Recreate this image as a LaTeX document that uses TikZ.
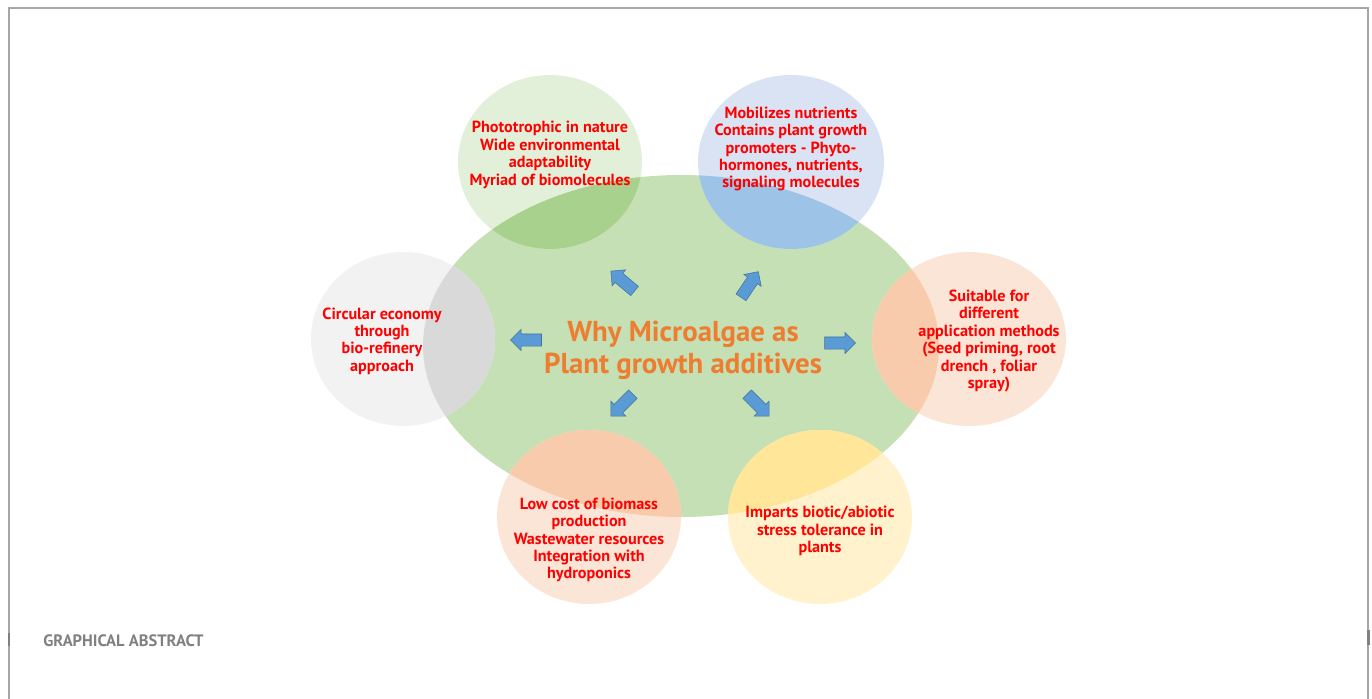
\documentclass[tikz,border=0pt]{standalone}
\usepackage{fontspec}
\setmainfont{PT Sans}
\usepackage{tikz}
\usetikzlibrary{arrows.meta}
\usetikzlibrary{positioning, shapes.arrows, shapes.geometric}
\definecolor{leafgreen}{HTML}{C5E0B4}
\definecolor{paleleaf}{HTML}{E2F0D9}
\definecolor{darkleaf}{HTML}{A9D18E}
\definecolor{paleblue}{HTML}{DAE3F3}
\definecolor{darkblue}{HTML}{9DC3E6}
\definecolor{palegrey}{HTML}{F2F2F2}
\definecolor{darkgrey}{HTML}{D9D9D9}
\definecolor{palepeach}{HTML}{FBE5D6}
\definecolor{darkpeach}{HTML}{F8CBAD}
\definecolor{palesun}{HTML}{FFF2CC}
\definecolor{darksun}{HTML}{FFE699}
\definecolor{titleorange}{HTML}{ED7D31}
\definecolor{arrowblue}{HTML}{5B9BD5}
\definecolor{arrowedge}{HTML}{41719C}
\definecolor{framegrey}{HTML}{A6A6A6}
\tikzset{
reason/.style = { align = center, text = red, font = \bfseries\fontsize{9.2}{9.92}\selectfont, inner sep = 0pt },
headline/.style = { align = center, text = titleorange, font = \bfseries\fontsize{16.4}{18}\selectfont, inner sep = 0pt },
blue arrow/.style = { single arrow, draw = arrowedge, line width = 0.3pt, fill = arrowblue, minimum height = 0.62cm, inner sep = 0.115cm, single arrow head extend = 0.09cm },
}

\begin{document}
\begin{tikzpicture}[x=0.02cm, y=-0.02cm]
      \useasboundingbox (0,0) rectangle (1372,699);
      \draw[framegrey, line width = 1.1pt] (9,699) -- (9,8) -- (1368,8) -- (1368,699);
      \fill[gray] (8,633) rectangle (10,646);
      \fill[gray] (1367,630) rectangle (1370,645);
      % central oval and the six bubbles around it
      \fill[leafgreen] (681,346) ellipse [x radius=258, y radius=171];
      \foreach \cx/\cy/\rx/\pale in {550/162/92/paleleaf, 791/162/93/paleblue, 403/339/92/palegrey,
                                     969/339/97/palepeach, 589/517/92/palepeach, 820/517/92/palesun}
        \fill[\pale] (\cx,\cy) ellipse [x radius=\rx, y radius=87];
      \begin{scope}
        \clip (681,346) ellipse [x radius=258, y radius=171];
        \foreach \cx/\cy/\rx/\dark in {550/162/92/darkleaf, 791/162/93/darkblue, 403/339/92/darkgrey,
                                       969/339/97/darkpeach, 589/517/92/darkpeach, 820/517/92/darksun}
          \fill[\dark] (\cx,\cy) ellipse [x radius=\rx, y radius=87];
      \end{scope}
      \node[headline] (why) at (683,350) {Why Microalgae as\\Plant growth additives};
      \node[reason] (photo) at (550,155) {Phototrophic in nature\\Wide environmental\\adaptability\\Myriad of biomolecules};
      \node[reason] (mobil) at (791,149) {Mobilizes nutrients\\Contains plant growth\\promoters - Phyto-\\hormones, nutrients,\\signaling molecules};
      \node[reason] (circ) at (382,341) {Circular economy\\through\\bio-refinery\\approach};
      \node[reason] (suit) at (989,341) {Suitable for\\different\\application methods\\(Seed priming, root\\drench , foliar\\spray)};
      \node[reason] (cost) at (589,540) {Low cost of biomass\\production\\Wastewater resources\\Integration with\\hydroponics};
      \node[reason] (stress) at (820,531) {Imparts biotic/abiotic\\stress tolerance in\\plants};
      % arrows pointing out from the title
      \node[blue arrow, rotate=140] (ar1) at (625,283) {};
      \node[blue arrow, rotate=56] (ar2) at (748,287) {};
      \node[blue arrow, rotate=180] (ar3) at (529,340) {};
      \node[blue arrow] (ar4) at (837,343) {};
      \node[blue arrow, rotate=-135] (ar5) at (624,403) {};
      \node[blue arrow, rotate=-45] (ar6) at (756,403) {};
      \node[anchor=west, text=gray, font=\bfseries\fontsize{9.4}{10}\selectfont, inner sep=0pt] (ga) at (43,641) {GRAPHICAL ABSTRACT};
    \end{tikzpicture}
\end{document}
